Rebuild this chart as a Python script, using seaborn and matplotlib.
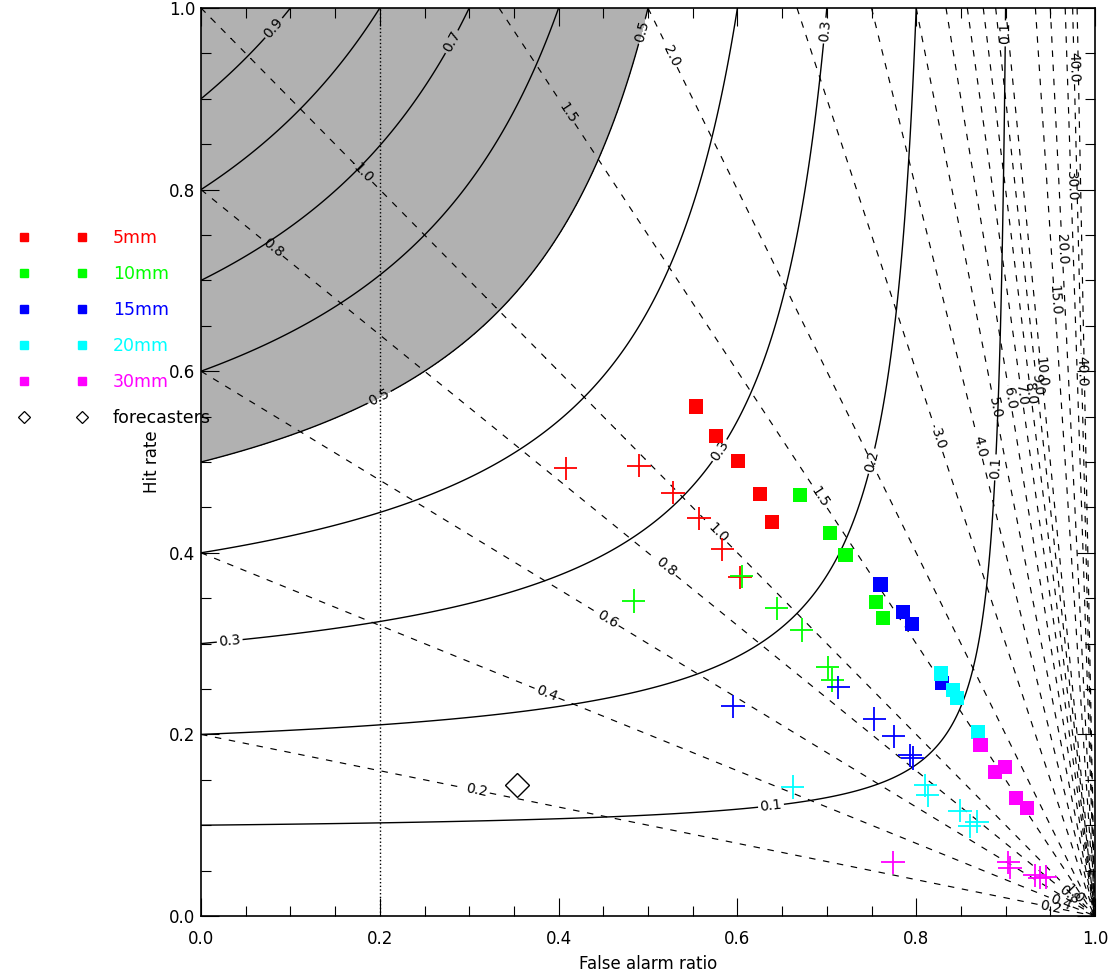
import numpy as np
import pandas as pd
import matplotlib
matplotlib.use("Agg")
import matplotlib.pyplot as plt
import seaborn as sns
from matplotlib.lines import Line2D

# ---------------- data ----------------
thresholds = ["5mm", "10mm", "15mm", "20mm", "30mm"]
colors = ["#ff0000", "#00ff00", "#0000ff", "#00ffff", "#ff00ff"]

# filled squares
sq_5_far = [0.554, 0.576, 0.601, 0.625, 0.639]
sq_5_pod = [0.561, 0.529, 0.501, 0.465, 0.434]
sq_10_far = [0.670, 0.704, 0.721, 0.755, 0.763]
sq_10_pod = [0.464, 0.422, 0.398, 0.346, 0.328]
sq_15_far = [0.760, 0.785, 0.795, 0.829]
sq_15_pod = [0.365, 0.335, 0.322, 0.257]
sq_20_far = [0.828, 0.841, 0.846, 0.869]
sq_20_pod = [0.267, 0.249, 0.240, 0.203]
sq_30_far = [0.872, 0.888, 0.899, 0.912, 0.924]
sq_30_pod = [0.188, 0.159, 0.164, 0.130, 0.119]

# crosses
pl_5_far = [0.408, 0.490, 0.528, 0.557, 0.583, 0.603]
pl_5_pod = [0.493, 0.496, 0.466, 0.438, 0.404, 0.373]
pl_10_far = [0.484, 0.605, 0.644, 0.672, 0.701, 0.706]
pl_10_pod = [0.347, 0.374, 0.339, 0.315, 0.274, 0.260]
pl_15_far = [0.595, 0.713, 0.753, 0.775, 0.793, 0.796]
pl_15_pod = [0.231, 0.252, 0.217, 0.198, 0.177, 0.174]
pl_20_far = [0.662, 0.810, 0.813, 0.849, 0.860, 0.868]
pl_20_pod = [0.142, 0.144, 0.133, 0.116, 0.099, 0.104]
pl_30_far = [0.774, 0.903, 0.905, 0.933, 0.938, 0.945]
pl_30_pod = [0.059, 0.059, 0.053, 0.045, 0.042, 0.043]

fc_far = [0.353]
fc_pod = [0.144]

csi_levels = [0.1, 0.2, 0.3, 0.4, 0.5, 0.6, 0.7, 0.8, 0.9]
bias_levels = [0.2, 0.4, 0.6, 0.8, 1.0, 1.5, 2.0, 3.0, 4.0, 5.0, 6.0, 7.0,
               8.0, 9.0, 10.0, 15.0, 20.0, 30.0, 40.0, 50.0]
shade_levels = [0.5, 1.01]

sq_far = [sq_5_far, sq_10_far, sq_15_far, sq_20_far, sq_30_far]
sq_pod = [sq_5_pod, sq_10_pod, sq_15_pod, sq_20_pod, sq_30_pod]
pl_far = [pl_5_far, pl_10_far, pl_15_far, pl_20_far, pl_30_far]
pl_pod = [pl_5_pod, pl_10_pod, pl_15_pod, pl_20_pod, pl_30_pod]

rows = []
for t, fs, ps in zip(thresholds, sq_far, sq_pod):
    rows += [(t, "square", f, p) for f, p in zip(fs, ps)]
for t, fs, ps in zip(thresholds, pl_far, pl_pod):
    rows += [(t, "cross", f, p) for f, p in zip(fs, ps)]
df = pd.DataFrame(rows, columns=["threshold", "kind", "far", "pod"])
palette = dict(zip(thresholds, colors))

# ---------------- style ----------------
sns.set_style("ticks")
plt.rcParams["font.family"] = ["DejaVu Sans"]
plt.rcParams["lines.dashed_pattern"] = [5.5, 6.5]
plt.rcParams["text.color"] = "k"
plt.rcParams["axes.labelcolor"] = "k"
plt.rcParams["xtick.color"] = "k"
plt.rcParams["ytick.color"] = "k"

fig = plt.figure(figsize=(11.15, 9.71), dpi=100)
ax = fig.add_axes([201 / 1115, 1 - 916 / 971, 894 / 1115, 908 / 971])

# grid for performance-diagram isolines
f = np.linspace(0.0, 0.9995, 900)
p = np.linspace(0.0005, 1.0, 900)
F, P = np.meshgrid(f, p)
CSI = 1.0 / (1.0 / P + 1.0 / (1.0 - F) - 1.0)
BIAS = P / (1.0 - F)

ax.contourf(F, P, CSI, levels=shade_levels, colors=["#b1b1b1"], zorder=0)
cs_csi = ax.contour(F, P, CSI, levels=csi_levels, colors="k",
                    linewidths=1.0, linestyles="solid", zorder=1)
cs_bias = ax.contour(F, P, BIAS, levels=bias_levels, colors="k",
                     linewidths=0.85, linestyles="dashed", zorder=1)

csi_label_pos = [(0.085, 0.975), (0.282, 0.962), (0.491, 0.975), (0.20, 0.57),
                 (0.699, 0.975), (0.58, 0.513), (0.032, 0.304), (0.754, 0.50),
                 (0.90, 0.972), (0.636, 0.135), (0.889, 0.494)]
ax.clabel(cs_csi, fmt="%.1f", fontsize=10, inline=True, inline_spacing=2,
          manual=csi_label_pos)

bias_label_pos = [(0.309, 0.139), (0.388, 0.249), (0.454, 0.326), (0.519, 0.383),
                  (0.083, 0.739), (0.577, 0.42), (0.181, 0.818), (0.692, 0.461),
                  (0.409, 0.884), (0.527, 0.948), (0.823, 0.524), (0.869, 0.517),
                  (0.888, 0.56), (0.905, 0.57), (0.918, 0.574), (0.928, 0.576),
                  (0.935, 0.585), (0.945, 0.60), (0.955, 0.678), (0.962, 0.734),
                  (0.973, 0.804), (0.9766, 0.935), (0.985, 0.60),
                  (0.95, 0.01), (0.962, 0.016), (0.97, 0.022), (0.976, 0.024)]
ax.clabel(cs_bias, fmt="%.1f", fontsize=10, inline=True, inline_spacing=2,
          manual=bias_label_pos)

ax.axvline(0.2, color="k", linestyle=":", linewidth=1.0, zorder=2)

# markers
sns.scatterplot(data=df[df.kind == "cross"], x="far", y="pod", hue="threshold",
                palette=palette, marker="+", s=280, linewidth=1.3,
                legend=False, ax=ax, zorder=3)
sns.scatterplot(data=df[df.kind == "square"], x="far", y="pod", hue="threshold",
                palette=palette, marker="s", s=105, linewidth=0,
                edgecolor="none", legend=False, ax=ax, zorder=4)
ax.plot(fc_far, fc_pod, marker="D", ms=12, mfc="none", mec="k", mew=1.0,
        ls="none", zorder=4)

# axes
ax.set_xlim(0, 1)
ax.set_ylim(0, 1)
ax.set_xticks(np.arange(0, 1.01, 0.2))
ax.set_yticks(np.arange(0, 1.01, 0.2))
ax.set_xticks(np.arange(0, 1.001, 0.05), minor=True)
ax.set_yticks(np.arange(0, 1.001, 0.05), minor=True)
ax.xaxis.set_major_formatter(matplotlib.ticker.FormatStrFormatter("%.1f"))
ax.yaxis.set_major_formatter(matplotlib.ticker.FormatStrFormatter("%.1f"))
ax.tick_params(which="both", direction="in", top=True, right=True,
               labeltop=False, labelright=False, width=0.8, color="k",
               labelcolor="k")
ax.tick_params(which="major", length=13)
ax.tick_params(which="minor", length=7)
ax.tick_params(axis="x", which="major", pad=10, labelsize=12)
ax.tick_params(axis="y", which="major", pad=4, labelsize=12)
for s in ax.spines.values():
    s.set_linewidth(1.2)
    s.set_color("k")
ax.set_xlabel("False alarm ratio", fontsize=12, labelpad=5, color="k")
ax.set_ylabel("Hit rate", fontsize=12, labelpad=6, color="k")

# legend (outside, left)
handles = [Line2D([], [], marker="s", ls="none", color=c, ms=5.5) for c in colors]
handles.append(Line2D([], [], marker="D", ls="none", mfc="none", mec="k", ms=6, mew=0.9))
labels = thresholds + ["forecasters"]
leg = fig.legend(handles, labels, loc="upper left",
                 bbox_to_anchor=(19 / 1115, 1 - 229 / 971), numpoints=2,
                 frameon=False, handlelength=3.95, handletextpad=1.45,
                 labelspacing=1.04, borderpad=0, borderaxespad=0, fontsize=12.5)
for txt, c in zip(leg.get_texts(), colors + ["k"]):
    txt.set_color(c)

fig.savefig("out.png", dpi=100)
